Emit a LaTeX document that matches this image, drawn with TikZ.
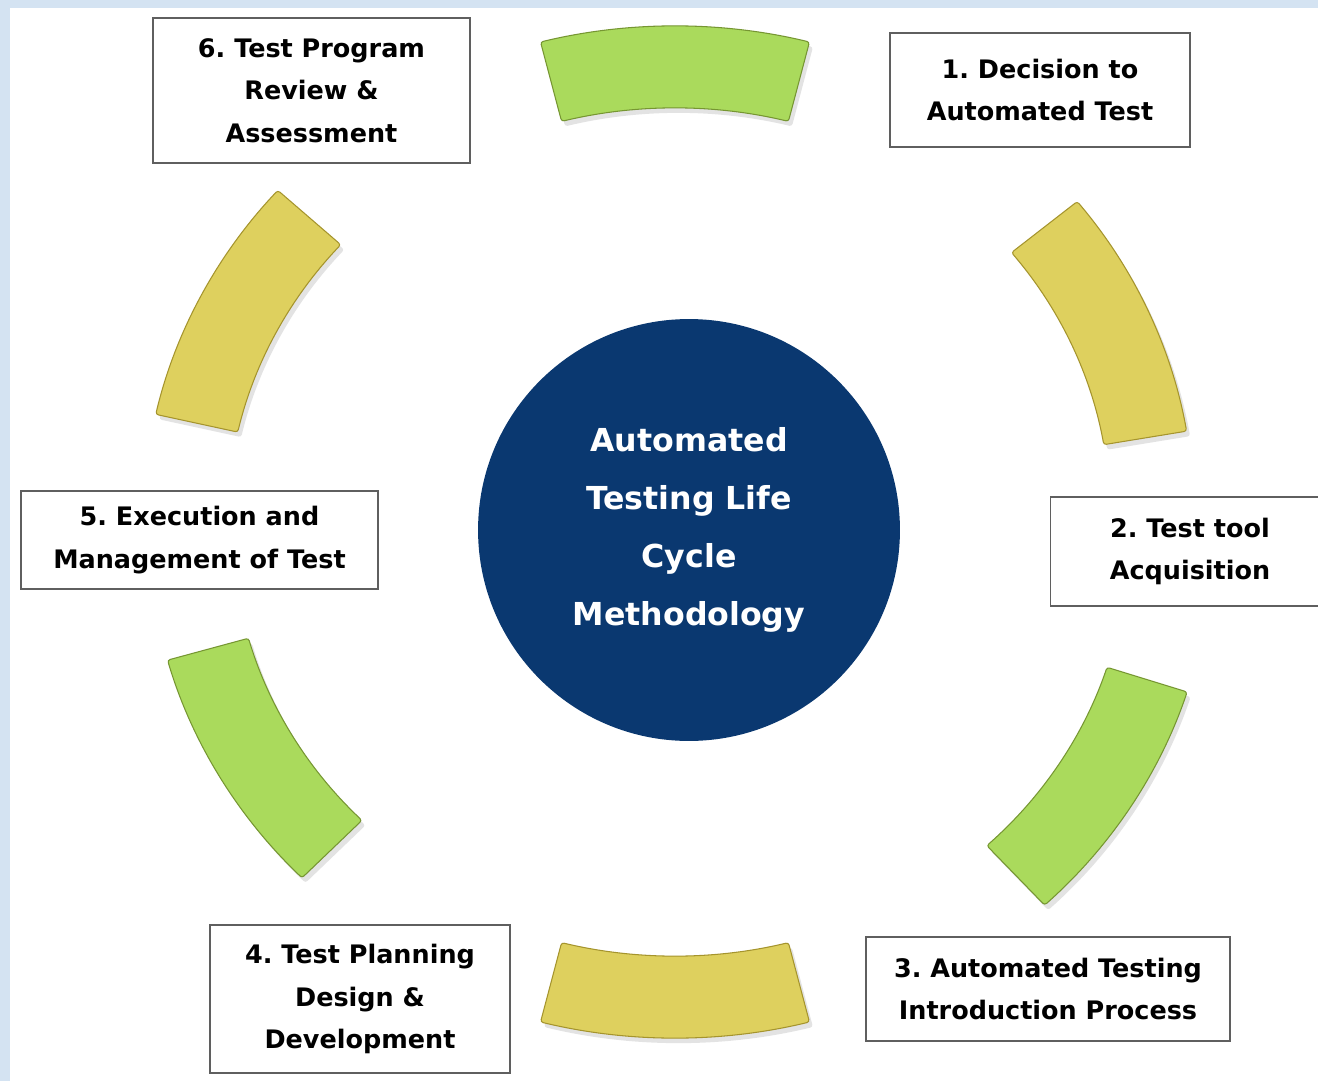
\documentclass[tikz,border=0pt]{standalone}
\usepackage{fontspec}
\setmainfont{DejaVu Sans}
\usepackage{tikz}
\usetikzlibrary{shadows}
\definecolor{PageBlue}{RGB}{212,227,242}
\definecolor{CoreBlue}{RGB}{10,56,112}
\definecolor{BandGreen}{RGB}{170,218,92}
\definecolor{BandGreenEdge}{RGB}{118,150,50}
\definecolor{BandYellow}{RGB}{222,208,94}
\definecolor{BandYellowEdge}{RGB}{165,148,45}
\definecolor{BoxLine}{RGB}{95,95,95}
\frenchspacing

\begin{document}
\begin{tikzpicture}[x=0.02cm,y=0.02cm,
  stepbox/.style={draw=BoxLine,line width=0.9pt,fill=white,align=center,
              inner sep=0pt,font=\fontsize{14.5}{24.2}\selectfont\bfseries},
  core/.style={circle,fill=CoreBlue,minimum size=8.44cm,inner sep=0pt,
              align=center,text=white,font=\fontsize{18}{33}\selectfont\bfseries},
  band/.style={line width=0.6pt,rounded corners=1.5pt,
              drop shadow={opacity=0.22,shadow xshift=0.07cm,shadow yshift=-0.1cm}},
]
\fill[PageBlue] (0,0) rectangle (1318,-1081);
\fill[white] (10,-8) rectangle (1318,-1081);
\useasboundingbox (0,0) rectangle (1318,-1081);

% ring of bands: angle / colour / nudge
\coordinate (ring) at (675,-528);
\foreach \ang/\col/\sx/\sy [evaluate=\ang as \angA using \ang+14.5,
                            evaluate=\ang as \angB using \ang-14.5] in
    {90/BandGreen/0/0,24/BandYellow/-18/14,-32/BandGreen/0/-13,
     -90/BandYellow/0/-8,-150/BandGreen/10/2,153/BandYellow/5/5}
  \draw[band,fill=\col,draw=\col Edge,shift={(\sx,\sy)}]
    ([shift={(ring)}]\angA:537 and 502)
    arc[start angle=\angA,end angle=\angB,x radius=537,y radius=502]
    -- ([shift={(ring)}]\angB:453 and 420)
    arc[start angle=\angB,end angle=\angA,x radius=453,y radius=420] -- cycle;

\node[core] (cycle) at (689,-530) {Automated\\Testing Life\\Cycle\\Methodology};

\node[stepbox,minimum width=6cm,minimum height=2.28cm] (step1) at (1040,-90)
  {1. Decision to\\Automated Test};
\node[stepbox,minimum width=5.58cm,minimum height=2.18cm] (step2) at (1190,-551.5)
  {2. Test tool\\Acquisition};
\node[stepbox,minimum width=7.28cm,minimum height=2.08cm] (step3) at (1048,-989)
  {3. Automated Testing\\Introduction Process};
\node[stepbox,minimum width=6cm,minimum height=2.96cm] (step4) at (360,-999)
  {4. Test Planning\\Design \&\\Development};
\node[stepbox,minimum width=7.14cm,minimum height=1.96cm] (step5) at (199.5,-540)
  {5. Execution and\\Management of Test};
\node[stepbox,minimum width=6.34cm,minimum height=2.9cm] (step6) at (311.5,-90.5)
  {6. Test Program\\Review \&\\Assessment};
\end{tikzpicture}
\end{document}
